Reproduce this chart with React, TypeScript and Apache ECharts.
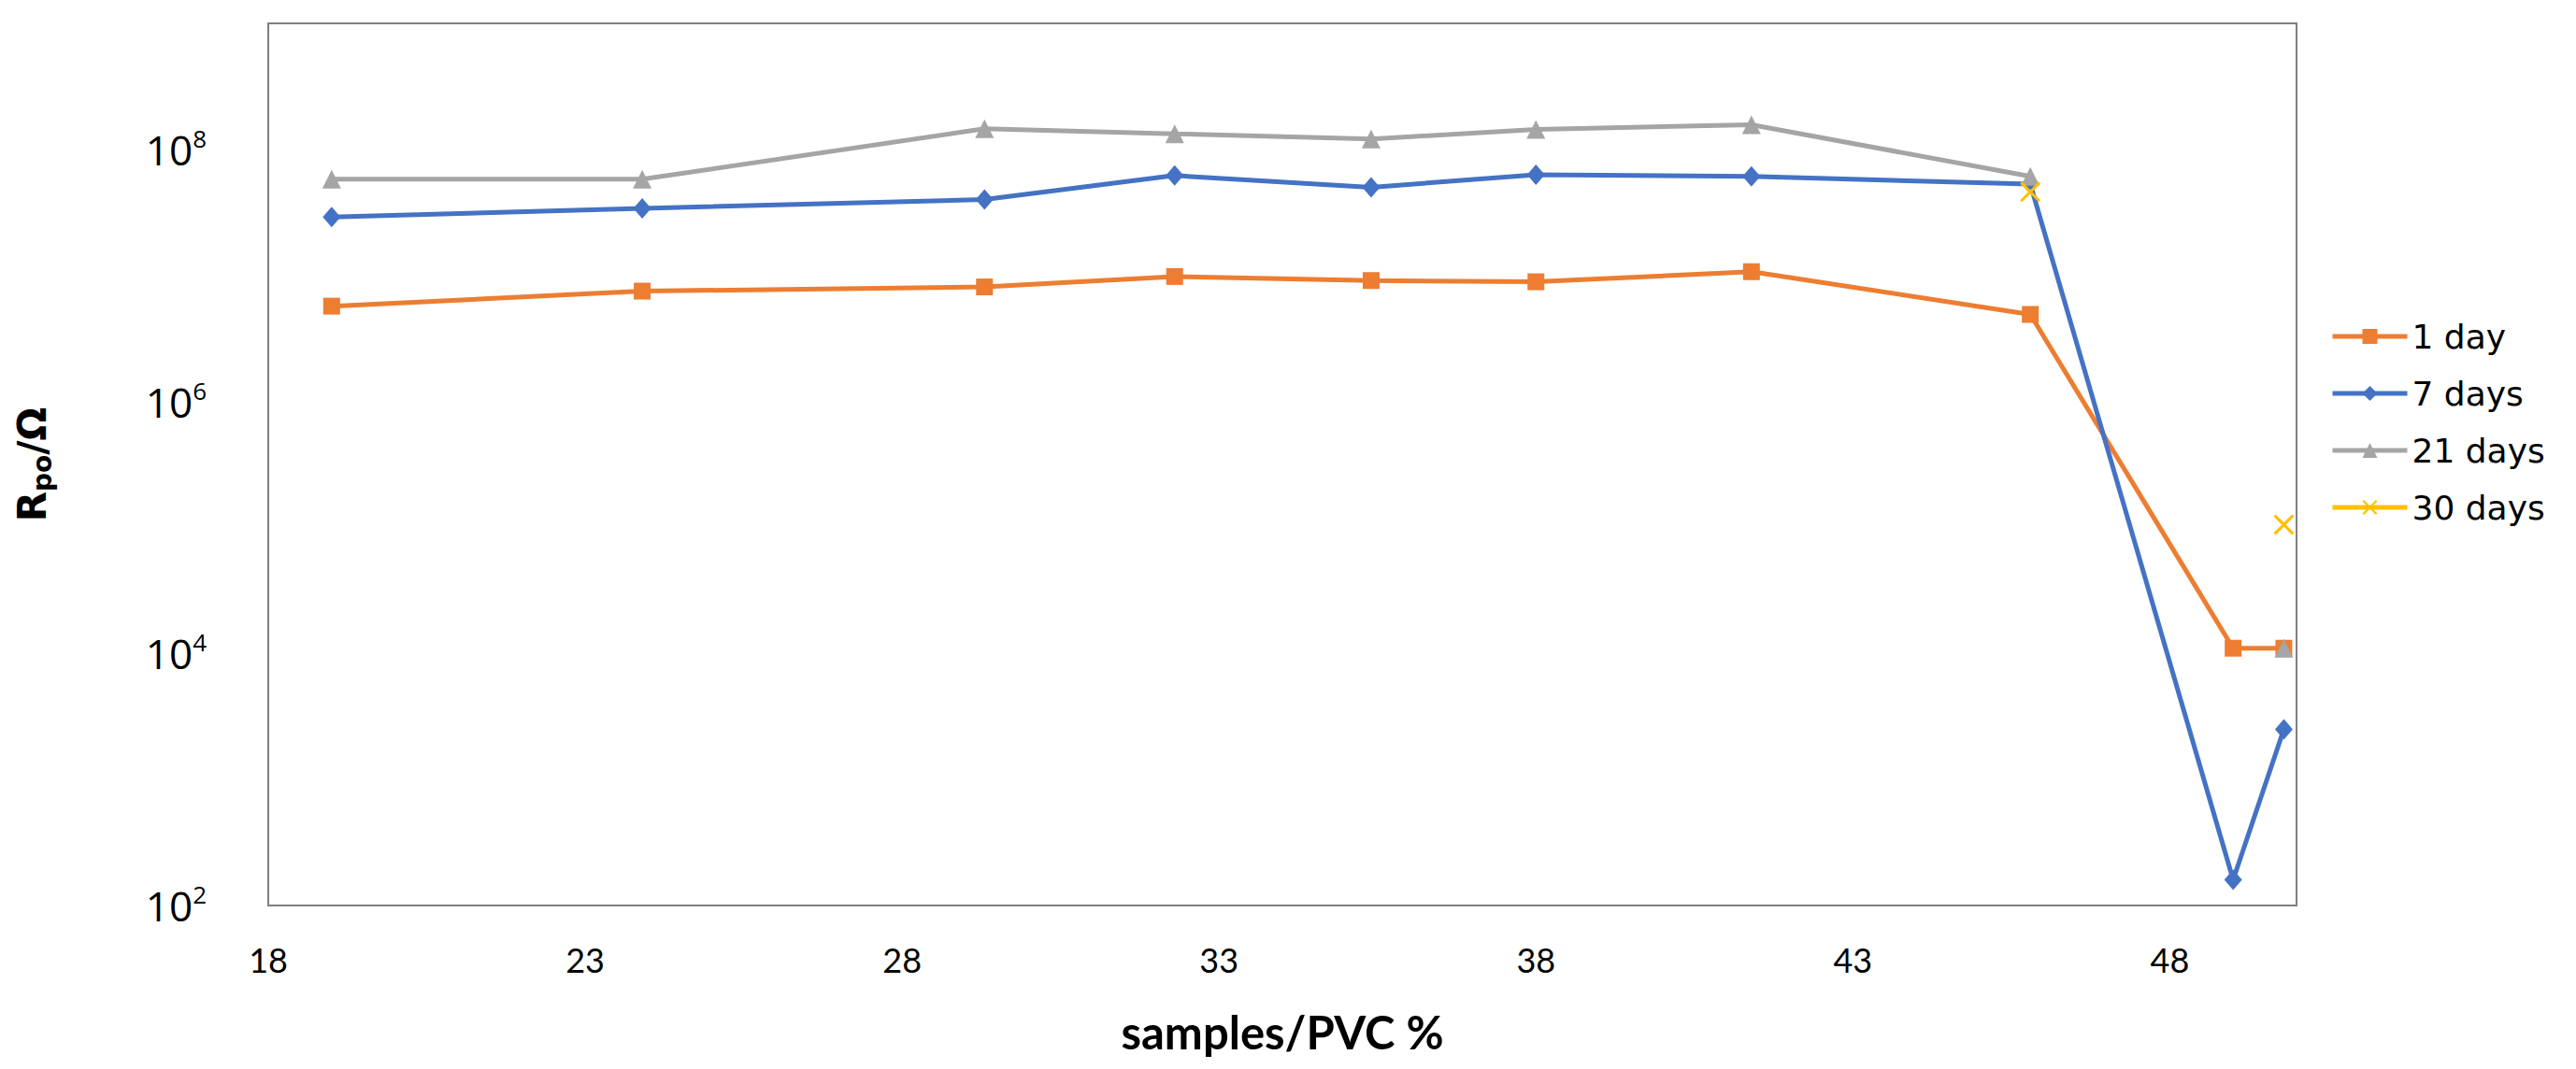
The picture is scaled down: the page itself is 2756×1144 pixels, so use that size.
import React, { useEffect, useRef } from 'react';
import * as echarts from 'echarts';

// ---- data ----
const pvc = [19, 23.9, 29.3, 32.3, 35.4, 38, 41.4, 45.8, 49, 49.8];
const day1 = [5.7e6, 7.5e6, 8.1e6, 9.8e6, 9.1e6, 8.9e6, 1.07e7, 4.9e6, 1.1e4, 1.1e4];
const day7 = [2.9e7, 3.4e7, 4.0e7, 6.2e7, 5.0e7, 6.3e7, 6.1e7, 5.3e7, 160, 2500];
const day21 = [5.8e7, 5.8e7, 1.46e8, 1.33e8, 1.21e8, 1.44e8, 1.57e8, 6.1e7, null, 1.1e4];
const day30 = [null, null, null, null, null, null, null, 4.6e7, null, 1.05e5];
const seriesNames = ['1 day', '7 days', '21 days', '30 days'];
const xTickLabels = [18, 23, 28, 33, 38, 43, 48];
const yTickExponents = [2, 4, 6, 8];

const X_SYMBOL = 'path://M0,1L1,0L5,4L9,0L10,1L6,5L10,9L9,10L5,6L1,10L0,9L4,5Z';

const pairs = (ys: (number | null)[]) => pvc.map((x, i) => [x, ys[i] == null ? '-' : ys[i]]);

export default function App() {
  const ref = useRef<HTMLDivElement>(null);
  useEffect(() => {
    if (!ref.current) return;
    const chart = echarts.init(ref.current, null, { renderer: 'svg' });
    const axisColor = '#7f7f7f';
    const mk = (name: string, data: (number | null)[], color: string, symbol: string, size: any) => ({
      name,
      type: 'line',
      data: pairs(data),
      symbol,
      symbolSize: size,
      showSymbol: true,
      connectNulls: false,
      lineStyle: { color, width: 5 },
      itemStyle: { color, borderWidth: 0 },
      emphasis: { disabled: true },
    });
    chart.setOption({
      animation: false,
      backgroundColor: '#ffffff',
      grid: {
        left: 287,
        right: 299,
        top: 25,
        bottom: 175,
        show: true,
        borderColor: axisColor,
        borderWidth: 2,
        backgroundColor: 'transparent',
      },
      legend: {
        orient: 'vertical',
        left: 2488,
        top: 335,
        itemWidth: 80,
        itemHeight: 20,
        itemGap: 21,
        data: seriesNames,
        lineStyle: { width: 5 },
        textStyle: { fontFamily: 'DejaVu Sans', fontSize: 36, color: '#000', lineHeight: 40 },
      },
      xAxis: {
        type: 'value',
        min: 18,
        max: 50,
        name: 'samples/PVC %',
        nameLocation: 'middle',
        nameGap: 110,
        nameTextStyle: { fontFamily: 'Lato', fontWeight: 'bold', fontSize: 49, color: '#000' },
        axisLine: { show: true, lineStyle: { color: axisColor, width: 2 } },
        axisTick: { show: false },
        splitLine: { show: false },
        axisLabel: {
          customValues: xTickLabels,
          fontFamily: 'Lato',
          fontSize: 36,
          color: '#000',
          margin: 40,
          showMaxLabel: true,
          showMinLabel: true,
        },
      },
      yAxis: {
        type: 'log',
        logBase: 10,
        min: 100,
        max: 1e9,
        name: '{r|R}{sub|po}{r|/Ω}',
        nameLocation: 'middle',
        nameRotate: 90,
        nameGap: 228,
        nameTextStyle: {
          rich: {
            r: { fontFamily: 'DejaVu Sans', fontWeight: 'bold', fontSize: 42, color: '#000', lineHeight: 50 },
            sub: { fontFamily: 'DejaVu Sans', fontWeight: 'bold', fontSize: 28, color: '#000', lineHeight: 28, verticalAlign: 'bottom' },
          },
        },
        axisLine: { show: true, lineStyle: { color: axisColor, width: 2 } },
        axisTick: { show: false },
        splitLine: { show: false },
        axisLabel: {
          margin: 66,
          formatter: (v: number) => {
            const e = Math.round(Math.log10(v));
            return yTickExponents.includes(e) ? `{b|10}{s|${e}}` : '';
          },
          rich: {
            b: { fontFamily: 'Open Sans', fontSize: 44, color: '#000', lineHeight: 50 },
            s: { fontFamily: 'Open Sans', fontSize: 26, color: '#000', lineHeight: 36, verticalAlign: 'top' },
          },
        },
      },
      series: [
        mk(seriesNames[0], day1, '#ED7D31', 'rect', 18),
        mk(seriesNames[1], day7, '#4472C4', 'diamond', [19, 22]),
        mk(seriesNames[2], day21, '#A5A5A5', 'triangle', 20),
        mk(seriesNames[3], day30, '#FFC000', X_SYMBOL, 22),
      ],
    });
    return () => chart.dispose();
  }, []);
  return (
    <div
      ref={ref}
      style={{ position: 'fixed', left: 0, top: 0, width: 2756, height: 1144, background: '#fff' }}
    />
  );
}
